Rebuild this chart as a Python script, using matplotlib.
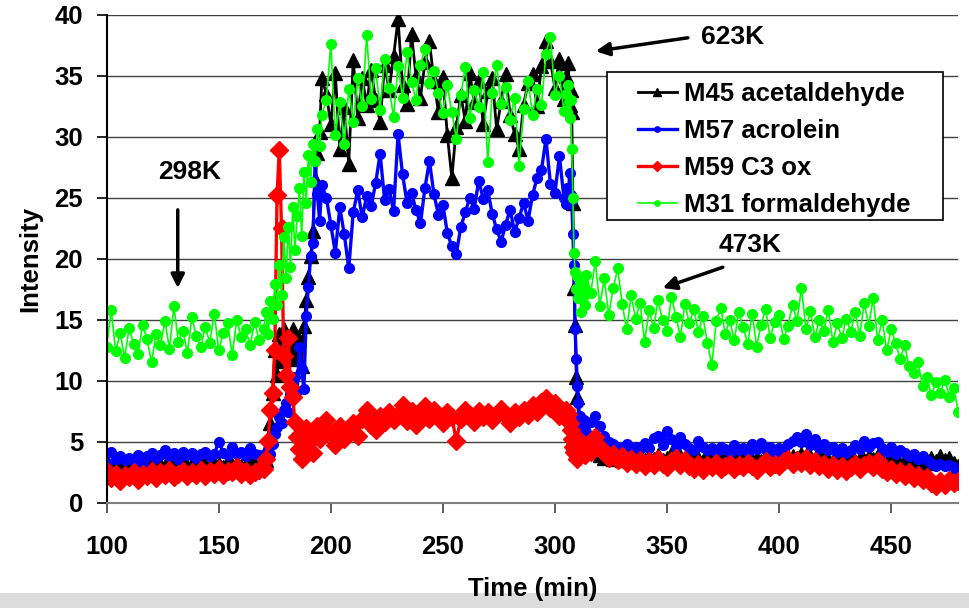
import numpy as np
import matplotlib.pyplot as plt
from matplotlib.patches import Rectangle

plt.rcParams['font.family'] = ['Liberation Sans', 'DejaVu Sans']
plt.rcParams['font.weight'] = 'bold'

# tiempo (min): paso fino en los dos saltos de temperatura
tiempo = np.r_[100:170:2, 170:197:1, 198:305:2, 305:314.5:0.5, 316:481:2]

m45_acetaldehido = [
    # 100-168
    3.1, 2.8, 3.3, 2.9, 3.0, 2.7, 3.2, 3.0, 2.8, 3.3, 3.1, 2.9, 3.2, 3.0, 3.4, 2.9, 3.1, 3.3,
    3.0, 3.2, 2.9, 3.4, 3.1, 3.0, 3.3, 3.2, 2.9, 3.4, 3.1, 3.3, 3.0, 3.2, 3.5, 3.1, 3.0,
    # 170-196
    3.2, 3.5, 4.5, 6.5, 9.0, 12.5, 10.5, 13.8, 11.6, 14.2, 12.5, 13.0, 12.0, 14.2, 12.6,
    11.8, 13.4, 11.2, 14.5, 16.6, 18.5, 20.2, 22.3, 26.5, 28.7, 30.4, 34.8,
    # 198-304
    33.5, 31.0, 35.2, 29.0, 32.4, 27.8, 36.3, 31.5, 34.8, 32.6, 35.5, 33.0, 31.2, 35.9,
    33.8, 36.6, 39.6, 34.2, 32.7, 38.4, 35.0, 33.2, 36.1, 37.8, 34.6, 32.0, 34.9, 30.1,
    26.6, 30.8, 33.4, 31.3, 35.2, 32.8, 34.6, 31.0, 33.7, 34.8, 30.6, 32.9, 35.1, 31.8,
    30.2, 29.0, 32.6, 34.4, 35.1, 32.5, 35.8, 37.8, 36.2, 34.0, 36.4, 33.1,
    # 305-314
    35.0, 33.4, 36.0, 32.6, 33.8, 32.0, 24.6, 17.6, 14.6, 10.3, 8.7, 7.0, 5.8, 6.4, 5.2,
    4.8, 5.6, 4.4, 4.9,
    # 316-480
    4.3, 4.8, 3.9, 3.7, 4.0, 3.6, 3.9, 3.5, 3.8, 3.4, 3.7, 3.9, 3.5, 3.8, 3.6, 3.9, 3.5,
    3.7, 4.0, 3.6, 3.8, 3.5, 3.9, 3.6, 3.7, 3.4, 3.8, 3.6, 3.9, 3.5, 3.7, 3.4, 3.8, 3.6,
    3.5, 3.9, 3.6, 3.7, 3.4, 3.8, 3.5, 3.7, 3.6, 3.9, 3.5, 3.8, 3.7, 4.0, 3.6, 3.8, 3.5,
    3.7, 3.9, 3.6, 3.4, 3.7, 3.5, 3.8, 3.6, 3.4, 3.7, 3.5, 3.8, 3.6, 3.9, 3.5, 3.3, 3.6,
    3.4, 3.2, 3.5, 3.1, 3.4, 3.2, 3.5, 3.3, 3.7, 3.4, 3.8, 3.5, 3.7, 3.3, 3.0,
]

m57_acroleina = [
    # 100-168
    3.3, 4.2, 3.6, 3.8, 3.5, 3.7, 3.4, 3.9, 3.3, 3.8, 4.1, 3.7, 3.9, 4.3, 3.8, 4.1, 3.6,
    4.2, 3.9, 4.1, 3.7, 4.0, 4.2, 3.8, 4.0, 5.0, 4.1, 3.9, 4.6, 4.0, 4.2, 3.8, 4.5, 4.0, 3.9,
    # 170-196
    3.9, 4.1, 4.4, 4.0, 4.8, 5.6, 6.2, 7.0, 6.5, 7.6, 8.2, 7.4, 8.9, 8.7, 10.3, 9.2, 12.8,
    11.0, 9.3, 15.3, 17.7, 20.2, 21.3, 28.0, 25.3, 23.1, 26.0,
    # 198-304
    25.0, 22.8, 20.5, 24.2, 22.0, 19.2, 23.8, 25.6, 23.4, 25.1, 24.3, 26.2, 28.6, 24.8,
    25.7, 23.9, 30.2, 26.9, 24.6, 25.4, 24.0, 22.9, 25.8, 28.0, 25.3, 23.6, 24.4, 22.1,
    21.0, 20.4, 22.6, 23.8, 25.0, 24.1, 26.4, 24.9, 25.6, 23.7, 22.4, 21.4, 22.8, 24.0,
    22.2, 23.3, 24.6, 23.1, 25.2, 26.6, 27.3, 29.8, 26.1, 25.4, 28.4, 25.0,
    # 305-314
    24.5, 25.8, 24.6, 27.0, 25.2, 24.8, 22.0, 19.5, 14.2, 11.8, 9.6, 8.2, 7.1, 6.4, 6.7,
    6.1, 6.8, 6.3, 5.8,
    # 316-480
    6.6, 7.1, 6.3, 5.5, 5.0, 4.8, 4.6, 4.5, 4.8, 4.3, 4.6, 4.4, 4.9, 4.5, 5.3, 5.5, 4.7,
    5.9, 5.2, 4.6, 5.4, 4.8, 4.5, 4.3, 5.1, 4.6, 4.3, 4.5, 4.2, 4.6, 4.4, 4.1, 4.7, 4.3,
    4.5, 4.2, 4.8, 4.4, 4.9, 4.3, 4.6, 4.1, 4.5, 4.3, 4.8, 5.1, 5.4, 5.0, 5.6, 4.7, 5.2,
    4.5, 4.8, 4.3, 4.6, 4.2, 4.5, 4.1, 4.3, 4.7, 4.4, 5.1, 4.6, 4.9, 5.0, 4.5, 4.2, 4.6,
    4.0, 4.3, 4.1, 3.8, 4.0, 3.6, 3.8, 3.5, 3.3, 3.0, 3.2, 3.0, 3.1, 2.9, 2.6,
]

m59_c3ox = [
    # 100-168
    2.6, 2.0, 2.4, 1.8, 2.3, 2.1, 2.5, 1.9, 2.4, 2.2, 2.6, 2.0, 2.5, 2.3, 2.7, 2.1, 2.4,
    2.6, 2.2, 2.5, 2.3, 2.7, 2.2, 2.6, 2.4, 2.8, 2.3, 2.6, 2.5, 2.9, 2.4, 2.6, 2.3, 2.5, 2.7,
    # 170-196
    2.8, 3.6, 5.1, 7.6, 9.0, 12.5, 25.2, 28.9, 22.5, 12.0, 10.5, 13.5, 9.5, 8.7, 6.6, 5.4,
    4.4, 3.6, 5.0, 6.1, 4.9, 5.8, 4.1, 5.5, 6.3, 5.2, 6.0,
    # 198-304
    6.8, 5.6, 4.7, 6.3, 5.2, 5.8, 6.5, 5.5, 6.9, 7.6, 6.4, 6.0, 7.1, 6.6, 7.4, 6.8, 7.2,
    8.0, 6.7, 7.5, 6.4, 7.3, 7.9, 6.9, 7.6, 7.1, 6.5, 7.4, 7.0, 5.1, 6.9, 7.6, 7.2, 6.6,
    7.5, 7.0, 7.4, 6.8, 7.3, 7.7, 7.1, 6.5, 7.4, 7.0, 7.6, 7.2, 8.0, 7.4, 8.3, 8.6, 7.8,
    8.2, 7.1, 7.5,
    # 305-314
    7.6, 6.9, 7.3, 6.5, 6.0, 5.2, 4.6, 4.2, 4.8, 4.0, 3.6, 4.5, 5.1, 4.3, 4.9, 4.2, 4.6,
    3.9, 4.4,
    # 316-480
    4.2, 5.4, 4.6, 4.1, 3.7, 4.0, 3.5, 3.8, 3.3, 3.6, 3.2, 3.5, 3.0, 3.4, 3.1, 3.6, 3.2,
    2.9, 3.4, 3.7, 3.1, 3.5, 3.0, 2.8, 3.2, 2.7, 3.1, 2.9, 3.3, 2.8, 3.0, 3.2, 2.8, 3.1,
    2.9, 3.3, 3.0, 2.7, 3.1, 3.4, 2.9, 3.2, 3.0, 3.4, 3.6, 3.2, 3.5, 3.3, 3.7, 3.1, 3.4,
    3.0, 3.2, 2.8, 3.1, 2.7, 3.0, 2.6, 2.9, 3.2, 2.8, 3.1, 3.3, 2.9, 3.4, 2.8, 2.5, 2.8,
    2.4, 2.6, 2.2, 2.5, 2.0, 2.3, 1.9, 2.1, 1.6, 1.4, 1.8, 1.5, 1.9, 1.6, 1.8,
]

m31_formaldehido = [
    # 100-168
    12.8, 15.8, 12.4, 13.9, 11.9, 14.3, 13.0, 12.2, 14.6, 13.4, 11.5, 13.8, 12.9, 14.9,
    12.6, 16.1, 13.2, 14.1, 12.3, 15.2, 13.7, 12.8, 14.4, 13.1, 15.5, 12.5, 13.9, 14.7,
    12.1, 15.0, 13.6, 14.2, 12.9, 14.8, 13.3,
    # 170-196
    14.2, 15.6, 13.8, 16.5, 15.1, 17.9, 16.2, 19.5, 17.0, 21.8, 18.4, 22.6, 19.3, 24.2,
    20.7, 23.5, 25.8, 21.9, 27.1, 24.6, 28.5, 26.3, 29.4, 28.0, 30.6, 29.2, 31.8,
    # 198-304
    33.0, 37.6, 30.1, 32.8, 29.4, 33.9, 31.2, 34.8, 32.5, 38.3, 33.1, 35.6, 32.2, 36.4,
    34.0, 31.6, 35.8, 33.2, 36.9, 34.5, 33.0, 35.9, 37.2, 34.4, 35.4, 33.6, 31.9, 34.2,
    32.0, 29.8, 33.4, 35.7, 31.5, 33.8, 32.4, 35.3, 27.9, 33.6, 35.9, 32.7, 34.1, 31.4,
    33.2, 27.6, 32.3, 34.6, 31.8, 33.9, 32.6, 36.8, 38.2, 33.4, 35.0, 32.1,
    # 305-314
    33.5, 32.0, 34.2, 31.5, 33.0, 29.0, 25.0, 20.5, 18.9, 17.5, 18.6, 16.8, 17.9, 15.6,
    18.2, 16.9, 17.6, 16.2, 18.7,
    # 316-480
    17.2, 19.8, 16.1, 18.4, 15.4, 17.6, 19.2, 16.3, 14.2, 17.0, 15.1, 16.4, 13.2, 15.8,
    14.3, 16.6, 15.0, 14.1, 16.9, 15.2, 13.6, 16.3, 14.7, 15.9, 14.0, 15.3, 13.1, 11.3,
    14.9, 16.0, 13.8, 15.0, 13.3, 15.6, 14.4, 13.0, 15.5, 12.8, 14.6, 15.9, 13.5, 14.8,
    15.4, 13.4, 14.5, 16.2, 14.9, 17.6, 14.2, 15.7, 13.6, 15.0, 14.1, 15.8, 13.2, 14.7,
    13.5, 15.1, 14.0, 15.6, 13.7, 16.4, 14.5, 16.8, 13.3, 15.0, 12.5, 14.2, 13.1, 11.8,
    12.9, 11.2, 10.6, 11.5, 9.6, 10.3, 8.8, 9.9, 9.0, 10.1, 8.7, 9.4, 7.4,
]

fig = plt.figure(figsize=(9.7, 6.08), dpi=100)
ax = fig.add_axes([0.110, 0.173, 0.878, 0.803])

# franja gris inferior
fig.patches.append(Rectangle((0, 0), 1, 15 / 608, transform=fig.transFigure,
                             facecolor='#dcdcdc', edgecolor='none', zorder=-1))

ax.plot(tiempo, m45_acetaldehido, color='black', lw=2, marker='^', ms=10.5,
        label='M45 acetaldehyde')
ax.plot(tiempo, m57_acroleina, color='#0000ff', lw=2.4, marker='o', ms=7,
        label='M57 acrolein')
ax.plot(tiempo, m59_c3ox, color='#ff0000', lw=2.4, marker='D', ms=9,
        label='M59 C3 ox')
ax.plot(tiempo, m31_formaldehido, color='#00ff00', lw=1.2, marker='o', ms=7,
        label='M31 formaldehyde')

ax.set_xlim(100, 480)
ax.set_ylim(0, 40)
ax.set_xticks([100, 150, 200, 250, 300, 350, 400, 450])
ax.set_yticks(range(0, 41, 5))
ax.yaxis.grid(True, color='#404040', lw=1)
ax.set_axisbelow(True)

for lado in ['top', 'right']:
    ax.spines[lado].set_visible(False)
ax.spines['left'].set_color('black')
ax.spines['left'].set_linewidth(1.5)
ax.spines['bottom'].set_color('#808080')
ax.spines['bottom'].set_linewidth(1.5)

ax.tick_params(axis='y', direction='out', length=7, width=1.2, pad=10,
               labelsize=18.5, colors='black')
ax.tick_params(axis='x', direction='out', length=7, width=1.2, pad=16,
               labelsize=18.5, colors='black')
ax.tick_params(axis='x', color='#404040')

ax.set_xlabel('Time (min)', fontsize=18.5, fontweight='bold')
ax.set_ylabel('Intensity', fontsize=18.5, fontweight='bold')
ax.xaxis.set_label_coords(0.5, -0.152)
ax.yaxis.set_label_coords(-0.076, 0.5)

# anotaciones de temperatura
flecha = dict(arrowstyle='-|>', color='black', lw=2.5, mutation_scale=20,
              shrinkA=0, shrinkB=0)
ax.annotate('', xy=(131.7, 17.6), xytext=(131.7, 24.0), arrowprops=flecha)
ax.text(137.1, 27.1, '298K', ha='center', va='center', fontsize=19, fontweight='bold')
ax.annotate('', xy=(318.2, 37.0), xytext=(359.3, 38.1), arrowprops=flecha,
            annotation_clip=False)
ax.text(379.4, 38.2, '623K', ha='center', va='center', fontsize=19, fontweight='bold')
ax.annotate('', xy=(348.1, 17.6), xytext=(374.9, 19.3), arrowprops=flecha)
ax.text(387.0, 21.1, '473K', ha='center', va='center', fontsize=19, fontweight='bold')

# recuadro de la leyenda (ancho fijo, como en el original)
ax.add_patch(Rectangle((0.5875, 0.580), 0.395, 0.303, transform=ax.transAxes,
                       facecolor='white', edgecolor='black', lw=1.2, zorder=4))
leg = ax.legend(loc='upper left', bbox_to_anchor=(0.624, 0.862), fontsize=18.5,
                frameon=False, markerscale=0.55, handlelength=1.5,
                handletextpad=0.3, labelspacing=0.5, borderpad=0,
                borderaxespad=0)
leg.set_zorder(5)

plt.savefig('out.png', dpi=100)
